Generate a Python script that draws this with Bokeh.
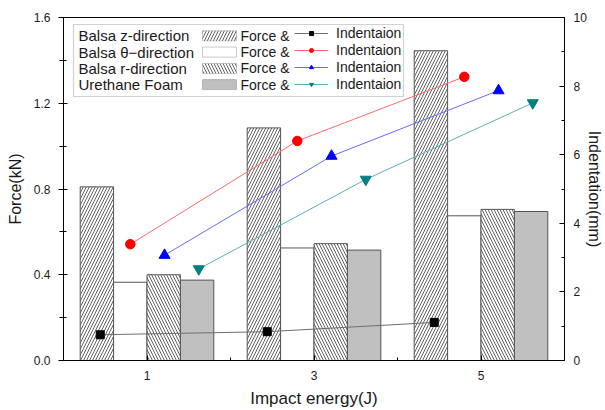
from bokeh.plotting import figure
from bokeh.models import (Range1d, LinearAxis, SingleIntervalTicker, FixedTicker,
                          PrintfTickFormatter, Legend, LegendItem, Label, BoxAnnotation,
                          ColumnDataSource)
from bokeh.transform import dodge
from bokeh.core.properties import value
from bokeh.embed import file_html
from bokeh.resources import INLINE

# ---- data ----
energy = [1, 3, 5]
force_z = [0.81, 1.085, 1.445]
force_theta = [0.365, 0.525, 0.675]
force_r = [0.40, 0.545, 0.705]
force_foam = [0.375, 0.515, 0.695]
indent_z = [0.75, 0.84, 1.11]
indent_theta = [3.39, 6.40, 8.27]
indent_r = [3.07, 5.96, 7.87]
indent_foam = [2.67, 5.28, 7.51]
series_names = ["Balsa z-direction", "Balsa \u03b8\u2212direction", "Balsa r-direction", "Urethane Foam"]
x_ticks = [1, 3, 5]
x_minor_ticks = [2, 4]

FONT = "Liberation Sans"
TXT = "#1a1a1a"

src = ColumnDataSource(dict(energy=energy, fz=force_z, ft=force_theta, fr=force_r, ff=force_foam,
                            iz=indent_z, it=indent_theta, ir=indent_r, iff=indent_foam))

p = figure(width=605, height=410, output_backend="svg", toolbar_location=None,
           x_range=Range1d(0, 6), y_range=Range1d(0, 1.6),
           min_border_left=63, min_border_right=41, min_border_top=17, min_border_bottom=50)
p.extra_y_ranges = {"ind": Range1d(0, 10)}
p.xgrid.visible = False
p.ygrid.visible = False
p.outline_line_color = "black"
p.outline_line_alpha = 1
p.outline_line_width = 1
p.background_fill_color = "white"
p.border_fill_color = "white"

bar_styles = [
    dict(fill_color="white", hatch_pattern="right_diagonal_line"),
    dict(fill_color="white", hatch_pattern=" "),
    dict(fill_color="white", hatch_pattern="left_diagonal_line"),
    dict(fill_color="#c0c0c0", hatch_pattern=" "),
]
hatch_kw = dict(hatch_color="#3a3a3a", hatch_scale=6, hatch_weight=0.8)
bar_offsets = [-0.6, -0.2, 0.2, 0.6]
bar_cols = ["fz", "ft", "fr", "ff"]
for col, off, st in zip(bar_cols, bar_offsets, bar_styles):
    p.vbar(x=dodge("energy", off), top=col, width=0.4, bottom=0, line_color="#555555",
           line_width=1, source=src, **st, **hatch_kw)

line_specs = [
    ("iz", -0.56, "#6e6e6e", "square", 8, "black"),
    ("it", -0.2, "#ff6a6a", "circle", 9.5, "#ff0000"),
    ("ir", 0.21, "#6a6aff", "triangle", 11, "#0000ff"),
    ("iff", 0.62, "#5cb3b3", "inverted_triangle", 11, "#008080"),
]
line_items = []
for col, off, lc, mk, sz, mc in line_specs:
    lr = p.line(x=dodge("energy", off), y=col, y_range_name="ind", line_color=lc,
                line_width=1, source=src)
    sr = p.scatter(x=dodge("energy", off), y=col, y_range_name="ind", marker=mk, size=sz,
                   fill_color=mc, line_color=mc, source=src)
    line_items.append((lr, sr))

# ---- axes ----
xa = p.xaxis[0]
xa.ticker = FixedTicker(ticks=x_ticks, minor_ticks=x_minor_ticks)
xa.axis_label = "Impact energy(J)"
xa.major_tick_in = 5
xa.major_tick_out = 0
xa.minor_tick_in = 3
xa.minor_tick_out = 0
xa.major_label_standoff = 10
xa.axis_label_standoff = 6
xa.axis_label_text_font_size = "17px"

ya = p.yaxis[0]
ya.ticker = SingleIntervalTicker(interval=0.4, num_minor_ticks=2)
ya.formatter = PrintfTickFormatter(format="%.1f")
ya.axis_label = "Force(kN)"
ya.major_tick_in = 4
ya.major_tick_out = 5
ya.minor_tick_in = 3
ya.minor_tick_out = 4
ya.major_label_standoff = 8
ya.axis_label_standoff = 7
ya.axis_label_text_font_size = "16px"

ra = LinearAxis(y_range_name="ind", axis_label="Indentation(mm)",
                ticker=SingleIntervalTicker(interval=2, num_minor_ticks=2))
ra.major_tick_in = 5
ra.major_tick_out = 0
ra.minor_tick_in = 3
ra.minor_tick_out = 0
ra.major_label_standoff = 9
ra.axis_label_standoff = -4
ra.axis_label_text_font_size = "16px"
p.add_layout(ra, "right")

for ax in (xa, ya, ra):
    ax.axis_line_color = "black"
    ax.major_tick_line_color = "black"
    ax.minor_tick_line_color = "black"
    ax.major_label_text_font = FONT
    ax.major_label_text_font_size = "12px"
    ax.major_label_text_color = TXT
    ax.axis_label_text_font = FONT
    ax.axis_label_text_font_style = "normal"
    ax.axis_label_text_color = TXT

# ---- legend (screen px, relative to plot frame bottom-left) ----
p.add_layout(BoxAnnotation(left=10, right=340, top=336, bottom=264,
                           left_units="screen", right_units="screen",
                           top_units="screen", bottom_units="screen",
                           fill_color="white", fill_alpha=1, line_color="#666666",
                           line_width=1.2, level="overlay"))

row_y = [324.7, 308.4, 292.1, 275.9]
for name, yy, st in zip(series_names, row_y, bar_styles):
    p.add_layout(Label(x=15, y=yy, x_units="screen", y_units="screen", text=name,
                       text_baseline="middle", text_font=FONT, text_font_size="15px",
                       text_color=TXT, level="overlay"))
    p.add_layout(BoxAnnotation(left=139, right=173, top=yy + 5, bottom=yy - 5,
                               left_units="screen", right_units="screen",
                               top_units="screen", bottom_units="screen",
                               fill_alpha=1, line_color="#555555", line_width=1,
                               level="overlay", **st, **hatch_kw))
    p.add_layout(Label(x=177, y=yy, x_units="screen", y_units="screen", text="Force &",
                       text_baseline="middle", text_font=FONT, text_font_size="14px",
                       text_color=TXT, level="overlay"))

leg2 = Legend(items=[LegendItem(label=value("Indentaion"), renderers=[lr, sr]) for lr, sr in line_items],
              location=(231, 268), label_standoff=8, orientation="vertical",
              glyph_width=34, glyph_height=10, label_height=17, spacing=0, padding=0, margin=0,
              border_line_alpha=0, background_fill_alpha=0,
              label_text_font=FONT, label_text_font_size="14px", label_text_color=TXT)
p.add_layout(leg2)

open("out.html", "w").write(file_html(p, INLINE))
